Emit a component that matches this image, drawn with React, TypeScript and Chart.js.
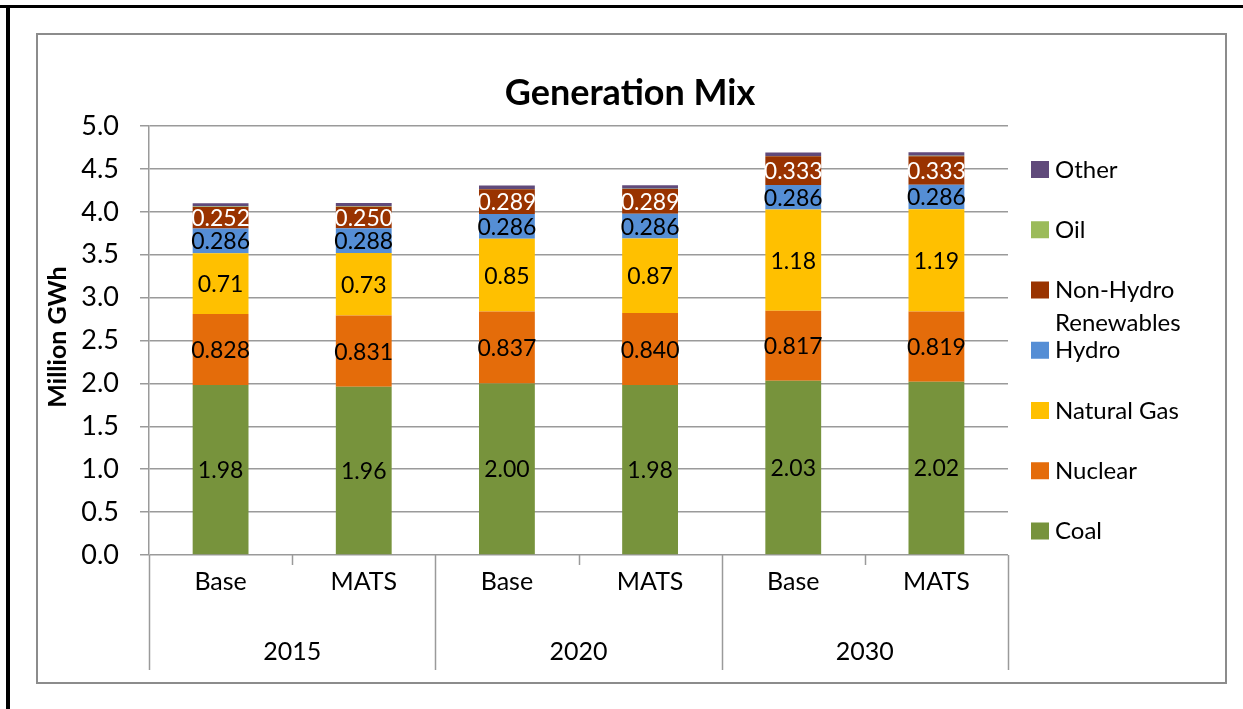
import React, { useEffect, useRef } from "react";
import { Chart, registerables } from "chart.js";

Chart.register(...registerables);

const groups = ["2015", "2020", "2030"];
const scenarios = ["Base", "MATS", "Base", "MATS", "Base", "MATS"];
const coal = [1.98, 1.96, 2.0, 1.98, 2.03, 2.02];
const nuclear = [0.828, 0.831, 0.837, 0.84, 0.817, 0.819];
const naturalGas = [0.71, 0.73, 0.85, 0.87, 1.18, 1.19];
const hydro = [0.286, 0.288, 0.286, 0.286, 0.286, 0.286];
const nonHydro = [0.252, 0.25, 0.289, 0.289, 0.333, 0.333];
const oil = [0.005, 0.005, 0.005, 0.005, 0.005, 0.005];
const other = [0.04, 0.04, 0.04, 0.04, 0.04, 0.04];
const yTicks = [0, 0.5, 1, 1.5, 2, 2.5, 3, 3.5, 4, 4.5, 5];

const FONT = "Lato, 'Noto Sans', sans-serif";
const GRID = "#9a9a9a";

type Series = { label: string; data: number[]; color: string; decimals: number | null; textColor: string };
const series: Series[] = [
  { label: "Coal", data: coal, color: "#77933C", decimals: 2, textColor: "#000" },
  { label: "Nuclear", data: nuclear, color: "#E46C0A", decimals: 3, textColor: "#000" },
  { label: "Natural Gas", data: naturalGas, color: "#FFC000", decimals: 2, textColor: "#000" },
  { label: "Hydro", data: hydro, color: "#558ED5", decimals: 3, textColor: "#000" },
  { label: "Non-Hydro Renewables", data: nonHydro, color: "#993300", decimals: 3, textColor: "#fff" },
  { label: "Oil", data: oil, color: "#9BBB59", decimals: null, textColor: "#000" },
  { label: "Other", data: other, color: "#604A7B", decimals: null, textColor: "#000" },
];

const overlay = {
  id: "overlay",
  afterDatasetsDraw(chart: any) {
    const ctx = chart.ctx as CanvasRenderingContext2D;
    const area = chart.chartArea;
    const xs = chart.scales.x;
    ctx.save();
    // data labels
    ctx.textAlign = "center";
    ctx.textBaseline = "middle";
    ctx.font = `23px ${FONT}`;
    series.forEach((s, di) => {
      if (s.decimals === null) return;
      const meta = chart.getDatasetMeta(di);
      meta.data.forEach((el: any, i: number) => {
        const cy = (el.y + el.base) / 2;
        ctx.fillStyle = s.textColor;
        ctx.fillText(s.data[i].toFixed(s.decimals as number), el.x, cy + 1);
      });
    });

    // title
    ctx.fillStyle = "#000";
    ctx.font = `bold 36px ${FONT}`;
    ctx.fillText("Generation Mix", 630, 93);

    // y axis title
    ctx.save();
    ctx.translate(58, 337);
    ctx.rotate(-Math.PI / 2);
    ctx.font = `bold 25px ${FONT}`;
    ctx.fillText("Million GWh", 0, 0);
    ctx.restore();

    // x axis hierarchical labels
    const n = scenarios.length;
    const half = (xs.getPixelForValue(1) - xs.getPixelForValue(0)) / 2;
    const bottom = area.bottom;
    ctx.strokeStyle = GRID;
    ctx.lineWidth = 1.5;
    for (let i = 0; i <= n; i++) {
      const x = i === n ? xs.getPixelForValue(n - 1) + half : xs.getPixelForValue(i) - half;
      const long = i % 2 === 0;
      ctx.beginPath();
      ctx.moveTo(Math.round(x) + 0.5, bottom);
      ctx.lineTo(Math.round(x) + 0.5, bottom + (long ? 115 : 10));
      ctx.stroke();
    }
    ctx.fillStyle = "#000";
    ctx.font = `25px ${FONT}`;
    scenarios.forEach((s, i) => {
      ctx.fillText(s, xs.getPixelForValue(i), bottom + 27);
    });
    groups.forEach((g, gi) => {
      const cx = (xs.getPixelForValue(gi * 2) + xs.getPixelForValue(gi * 2 + 1)) / 2;
      ctx.fillText(g, cx, bottom + 97);
    });

    // legend
    ctx.textAlign = "left";
    ctx.font = `24px ${FONT}`;
    const items = [...series].reverse();
    items.forEach((s, k) => {
      const cy = 169 + k * 60.25;
      ctx.fillStyle = s.color;
      ctx.fillRect(1031, cy - 8, 18, 17);
      ctx.fillStyle = "#000";
      const w = ctx.measureText(s.label).width;
      if (w > 160 && s.label.includes(" ")) {
        const idx = s.label.lastIndexOf(" ");
        ctx.fillText(s.label.slice(0, idx), 1055, cy + 1);
        ctx.fillText(s.label.slice(idx + 1), 1055, cy + 34);
      } else {
        ctx.fillText(s.label, 1055, cy + 1);
      }
    });
    ctx.restore();
  },
};

export default function App() {
  const ref = useRef<HTMLCanvasElement>(null);
  useEffect(() => {
    if (!ref.current) return;
    const chart = new Chart(ref.current, {
      type: "bar",
      data: {
        labels: scenarios,
        datasets: series.map((s) => ({
          label: s.label,
          data: s.data,
          backgroundColor: s.color,
          borderWidth: 0,
          categoryPercentage: 1,
          barPercentage: 0.39,
        })),
      },
      options: {
        animation: false,
        responsive: false,
        maintainAspectRatio: false,
        layout: { padding: { left: 0, top: 126, right: 235, bottom: 154 } },
        plugins: { legend: { display: false }, title: { display: false }, tooltip: { enabled: false } },
        scales: {
          x: { type: "category", stacked: true, display: false, offset: true },
          y: {
            type: "linear",
            stacked: true,
            min: 0,
            max: 5,
            afterBuildTicks: (scale: any) => {
              scale.ticks = yTicks.map((v) => ({ value: v }));
            },
            afterFit: (scale: any) => {
              scale.width = 149;
            },
            ticks: {
              padding: 21,
              color: "#000",
              font: { family: FONT, size: 27 },
              callback: (v: any) => Number(v).toFixed(1),
            },
            grid: { color: GRID, lineWidth: 1.5, tickLength: 9, drawTicks: true },
            border: { color: GRID, width: 1.5 },
          },
        },
      },
      plugins: [overlay],
    });
    return () => chart.destroy();
  }, []);

  return (
    <div style={{ position: "absolute", left: 0, top: 0, width: 1243, height: 709, background: "#fff", overflow: "hidden" }}>
      <div style={{ position: "absolute", left: 0, top: 5, width: 1243, height: 3, background: "#000" }} />
      <div style={{ position: "absolute", left: 6, top: 5, width: 4, height: 704, background: "#000" }} />
      <div
        style={{
          position: "absolute",
          left: 36,
          top: 33,
          width: 1191,
          height: 651,
          border: "2px solid #8c8c8c",
          boxSizing: "border-box",
        }}
      />
      <canvas ref={ref} width={1243} height={709} style={{ position: "absolute", left: 0, top: 0, width: 1243, height: 709 }} />
    </div>
  );
}
